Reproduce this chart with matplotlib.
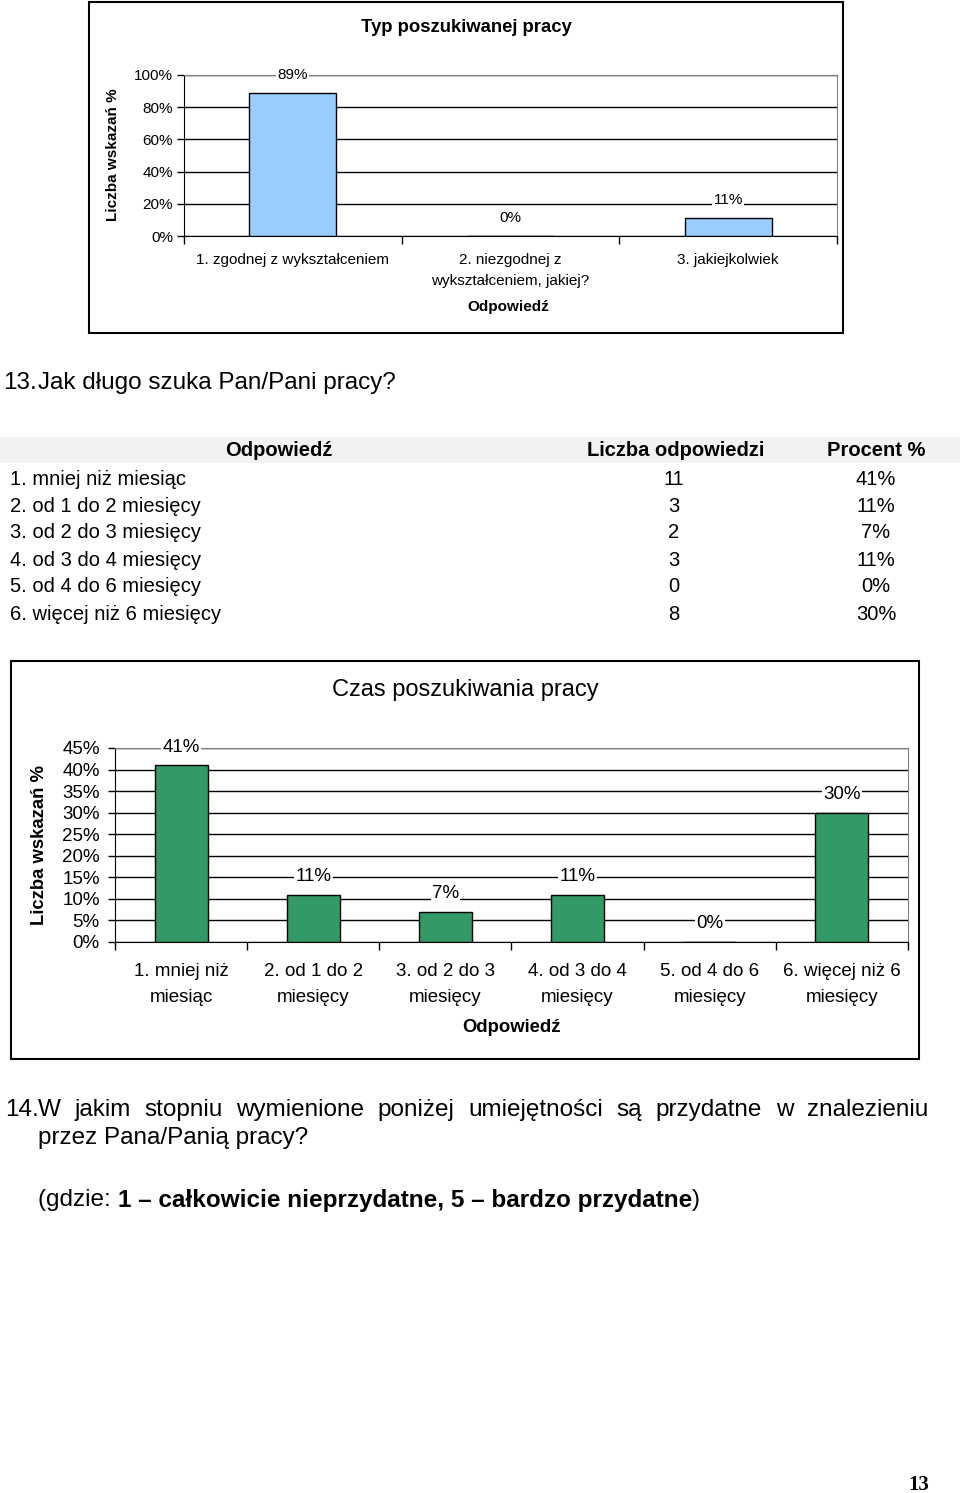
import numpy as np
import matplotlib
matplotlib.use('Agg')
import matplotlib.pyplot as plt
from matplotlib.patches import Rectangle

plt.rcParams['font.family'] = ['Liberation Sans', 'DejaVu Sans']

W, H = 960, 1493

# Wykres 1 - typ poszukiwanej pracy
typ_kategorie = ['1. zgodnej z wykształceniem', '2. niezgodnej z\nwykształceniem, jakiej?', '3. jakiejkolwiek']
typ_procent = [0.89, 0.0, 0.11]
typ_ticks = [0.0, 0.2, 0.4, 0.6, 0.8, 1.0]

# Tabela i wykres 2 - czas poszukiwania pracy
czas_odpowiedzi = ['1. mniej niż miesiąc', '2. od 1 do 2 miesięcy', '3. od 2 do 3 miesięcy',
                   '4. od 3 do 4 miesięcy', '5. od 4 do 6 miesięcy', '6. więcej niż 6 miesięcy']
czas_kategorie = ['1. mniej niż\nmiesiąc', '2. od 1 do 2\nmiesięcy', '3. od 2 do 3\nmiesięcy',
                  '4. od 3 do 4\nmiesięcy', '5. od 4 do 6\nmiesięcy', '6. więcej niż 6\nmiesięcy']
czas_liczba = [11, 3, 2, 3, 0, 8]
czas_procent = [0.41, 0.11, 0.07, 0.11, 0.0, 0.30]
czas_ticks = [0.0, 0.05, 0.10, 0.15, 0.20, 0.25, 0.30, 0.35, 0.40, 0.45]

pytanie_13 = 'Jak długo szuka Pan/Pani pracy?'
pytanie_14 = 'W jakim stopniu wymienione poniżej umiejętności są przydatne w znalezieniu'
pytanie_14b = 'przez Pana/Panią pracy?'

fig = plt.figure(figsize=(W / 100, H / 100), dpi=100)


def fx(x):
    return x / W


def fy(y):
    return 1 - y / H


def px_axes(l, t, r, b):
    return fig.add_axes([fx(l), fy(b), (r - l) / W, (b - t) / H])


def frame(l, t, r, b):
    fig.patches.append(Rectangle((fx(l), fy(b)), (r - l) / W, (b - t) / H, transform=fig.transFigure,
                                 fill=False, edgecolor='black', linewidth=1.5))


def bar_chart(ax, cats, vals, ticks, color, fs, pad_x, pad_y, lab_off):
    x = np.arange(len(vals))
    ax.bar(x, vals, width=0.4, color=color, edgecolor='black', linewidth=1, zorder=3)
    ax.set_xlim(-0.5, len(vals) - 0.5)
    ax.set_ylim(0, ticks[-1])
    ax.set_yticks(ticks)
    ax.set_yticklabels([f'{t:.0%}' for t in ticks], fontsize=fs)
    ax.yaxis.grid(True, color='black', linewidth=1, zorder=0)
    ax.set_xticks(np.arange(len(vals) + 1) - 0.5)
    ax.set_xticklabels([])
    ax.set_xticks(x, minor=True)
    ax.set_xticklabels(cats, minor=True, fontsize=fs, linespacing=1.7)
    ax.tick_params(axis='x', which='minor', length=0, pad=pad_x)
    ax.tick_params(axis='x', which='major', length=6, width=1)
    ax.tick_params(axis='y', length=5, width=1, pad=pad_y)
    for s in ['top', 'right']:
        ax.spines[s].set_color('#808080')
    for xi, v in zip(x, vals):
        ax.annotate(f'{v:.0%}', (xi, v), xytext=(0, lab_off), textcoords='offset points',
                    ha='center', va='center', fontsize=fs,
                    bbox=dict(facecolor='white', edgecolor='none', pad=1), zorder=4)


# --- wykres 1 ---
frame(89, 2, 843, 333)
ax1 = px_axes(184, 75, 837, 236)
bar_chart(ax1, typ_kategorie, typ_procent, typ_ticks, '#99CCFF', 11, 12, 3, 13)
fig.text(fx(466), fy(27), 'Typ poszukiwanej pracy', ha='center', va='center', fontsize=13.3, fontweight='bold')
fig.text(fx(113), fy(155), 'Liczba wskazań %', ha='center', va='center', rotation=90, fontsize=11, fontweight='bold')
fig.text(fx(508), fy(307), 'Odpowiedź', ha='center', va='center', fontsize=11, fontweight='bold')

# --- pytanie 13 ---
fig.text(fx(37), fy(383), '13.', ha='right', va='center', fontsize=17.5)
fig.text(fx(38), fy(383), pytanie_13, ha='left', va='center', fontsize=17.5)

# --- tabela ---
fig.patches.append(Rectangle((0, fy(463)), 1, 26 / H, transform=fig.transFigure,
                             facecolor='#F2F2F2', edgecolor='none'))
fig.text(fx(279), fy(451), 'Odpowiedź', ha='center', va='center', fontsize=14.5, fontweight='bold')
fig.text(fx(676), fy(451), 'Liczba odpowiedzi', ha='center', va='center', fontsize=14.5, fontweight='bold')
fig.text(fx(876), fy(451), 'Procent %', ha='center', va='center', fontsize=14.5, fontweight='bold')
for i, (odp, n, p) in enumerate(zip(czas_odpowiedzi, czas_liczba, czas_procent)):
    y = 479 + 27 * i
    fig.text(fx(10), fy(y), odp, ha='left', va='center', fontsize=14.5)
    fig.text(fx(674), fy(y), str(n), ha='center', va='center', fontsize=14.5)
    fig.text(fx(876), fy(y), f'{p:.0%}', ha='center', va='center', fontsize=14.5)

# --- wykres 2 ---
frame(11, 661, 919, 1059)
ax2 = px_axes(115, 748, 908, 942)
bar_chart(ax2, czas_kategorie, czas_procent, czas_ticks, '#339966', 13.5, 15, 6, 13)
fig.text(fx(465), fy(690), 'Czas poszukiwania pracy', ha='center', va='center', fontsize=17)
fig.text(fx(40), fy(845), 'Liczba wskazań %', ha='center', va='center', rotation=90, fontsize=13.3, fontweight='bold')
fig.text(fx(511), fy(1028), 'Odpowiedź', ha='center', va='center', fontsize=13.3, fontweight='bold')

# --- pytanie 14 (tekst wyjustowany) ---
fig.canvas.draw()
renderer = fig.canvas.get_renderer()
fig.text(fx(5), fy(1110), '14.', ha='left', va='center', fontsize=17.5)
words = pytanie_14.split()
texts = [fig.text(0, fy(1110), w, ha='left', va='center', fontsize=17.5) for w in words]
widths = [t.get_window_extent(renderer).width for t in texts]
gap = (928 - 38 - sum(widths)) / (len(words) - 1)
xpos = 38
for t, w in zip(texts, widths):
    t.set_x(fx(xpos))
    xpos += w + gap
fig.text(fx(38), fy(1138), pytanie_14b, ha='left', va='center', fontsize=17.5)

parts = [('(gdzie: ', 'normal'), ('1 – całkowicie nieprzydatne, 5 – bardzo przydatne', 'bold'), (')', 'normal')]
xpos = 38
for s, wgt in parts:
    t = fig.text(fx(xpos), fy(1200), s, ha='left', va='center', fontsize=17.5, fontweight=wgt)
    xpos += t.get_window_extent(renderer).width

fig.text(fx(919), fy(1485), '13', ha='center', va='center', fontsize=15, fontweight='bold',
         family=['Liberation Serif', 'DejaVu Serif'])

fig.savefig('out.png', dpi=100)
